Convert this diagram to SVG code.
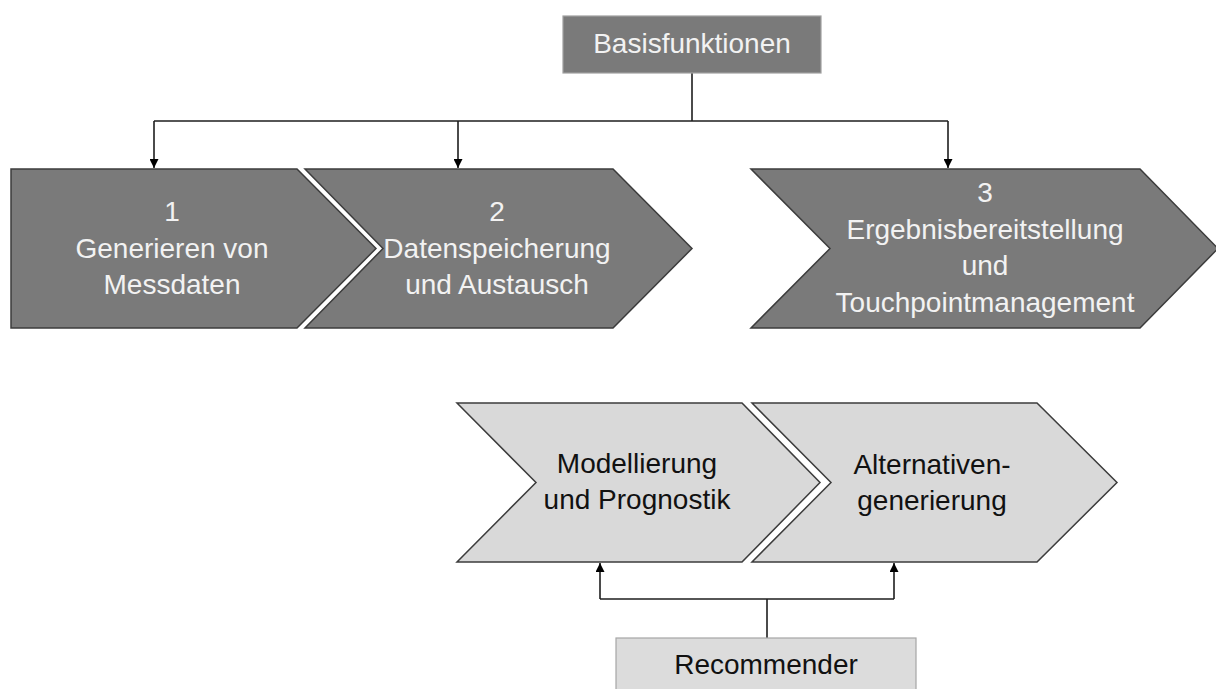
<svg xmlns="http://www.w3.org/2000/svg" width="1216" height="689" viewBox="0 0 1216 689">
<defs>
<style>
.dark{fill:#7a7a7a;stroke:#3c3c3c;stroke-width:1.5}
.light{fill:#d9d9d9;stroke:#3c3c3c;stroke-width:1.5}
.tw{font-family:"Liberation Sans",Arial,sans-serif;font-size:28px;fill:#f2f2f2;text-anchor:middle}
.tb{font-family:"Liberation Sans",Arial,sans-serif;font-size:28px;fill:#111;text-anchor:middle}
.conn{fill:none;stroke:#1e1e1e;stroke-width:1.6}
</style>
<marker id="arr" viewBox="0 0 10 10" refX="10" refY="5" markerWidth="9" markerHeight="9" markerUnits="userSpaceOnUse" orient="auto">
<path d="M0,0 L10,5 L0,10 Z" fill="#000"/>
</marker>
</defs>
<rect width="1216" height="689" fill="#fff"/>
<g id="connectors">
<line class="conn" x1="692" y1="73" x2="692" y2="121"/>
<line class="conn" x1="154" y1="121" x2="948" y2="121"/>
<line class="conn" x1="154" y1="121" x2="154" y2="168" marker-end="url(#arr)"/>
<line class="conn" x1="458" y1="121" x2="458" y2="168" marker-end="url(#arr)"/>
<line class="conn" x1="948" y1="121" x2="948" y2="168" marker-end="url(#arr)"/>
<line class="conn" x1="767" y1="638" x2="767" y2="599"/>
<line class="conn" x1="600" y1="599" x2="894" y2="599"/>
<line class="conn" x1="600" y1="599" x2="600" y2="563" marker-end="url(#arr)"/>
<line class="conn" x1="894" y1="599" x2="894" y2="563" marker-end="url(#arr)"/>
</g>
<g id="basisfunktionen">
<rect x="563" y="16" width="258" height="57" fill="#7a7a7a" stroke="#a0a0a0" stroke-width="1.2"/>
<text class="tw" x="692" y="53">Basisfunktionen</text>
</g>
<g id="step1">
<path class="dark" d="M11,169 H297 L376,248.5 L297,328 H11 Z"/>
<text class="tw" x="172" y="221">1</text>
<text class="tw" x="172" y="258">Generieren von</text>
<text class="tw" x="172" y="294">Messdaten</text>
</g>
<g id="step2">
<path class="dark" d="M305,169 H613 L692,248.5 L613,328 H305 L383,248.5 Z"/>
<text class="tw" x="497" y="221">2</text>
<text class="tw" x="497" y="258">Datenspeicherung</text>
<text class="tw" x="497" y="294">und Austausch</text>
</g>
<g id="step3">
<path class="dark" d="M751,169 H1140 L1218,248.5 L1140,328 H751 L830,248.5 Z"/>
<text class="tw" x="985" y="202">3</text>
<text class="tw" x="985" y="239">Ergebnisbereitstellung</text>
<text class="tw" x="985" y="275">und</text>
<text class="tw" x="985" y="312">Touchpointmanagement</text>
</g>
<g id="modellierung">
<path class="light" d="M457,403 H742 L820,482.5 L742,562 H457 L536,482.5 Z"/>
<text class="tb" x="637" y="473">Modellierung</text>
<text class="tb" x="637" y="509">und Prognostik</text>
</g>
<g id="alternativen">
<path class="light" d="M752,403 H1037 L1117,482.5 L1037,562 H752 L831,482.5 Z"/>
<text class="tb" x="932" y="474">Alternativen-</text>
<text class="tb" x="932" y="510">generierung</text>
</g>
<g id="recommender">
<rect x="616" y="638" width="300" height="60" fill="#dcdcdc" stroke="#a6a6a6" stroke-width="1.2"/>
<text class="tb" x="766" y="674">Recommender</text>
</g>
</svg>
